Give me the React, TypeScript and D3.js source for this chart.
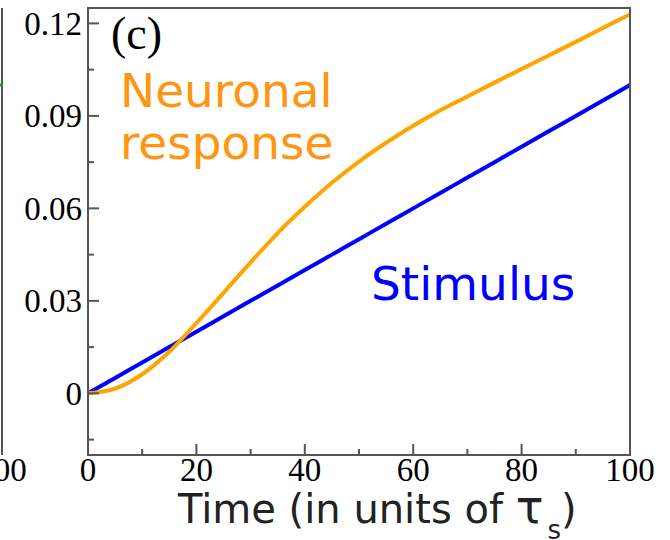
import React from 'react';
import * as d3 from 'd3';

// time axis (units of tau_s)
const times = [0, 5, 10, 15, 20, 25, 30, 35, 40, 45, 50, 55, 60, 65, 70, 75, 80, 85, 90, 95, 100];
// stimulus ramp
const stimulus = [0, 0.005, 0.01, 0.015, 0.02, 0.025, 0.03, 0.035, 0.04, 0.045, 0.05, 0.055, 0.06, 0.065, 0.07, 0.075, 0.08, 0.085, 0.09, 0.095, 0.1];
// neuronal response
const response = [0, 0.0015, 0.0062, 0.0135, 0.0228, 0.0326, 0.0425, 0.052, 0.0605, 0.0683, 0.0752, 0.0813, 0.0868, 0.0918, 0.0963, 0.1008, 0.1052, 0.1096, 0.114, 0.1185, 0.123];

const xMajor = [0, 20, 40, 60, 80, 100];
const xMinor = [10, 30, 50, 70, 90];
const yMajor = [0, 0.03, 0.06, 0.09, 0.12];
const yMinor = [-0.015, 0.015, 0.045, 0.075, 0.105];
const yLabels = ['0', '0.03', '0.06', '0.09', '0.12'];

const W = 670;
const H = 540;
const left = 88;
const right = 630;
const top = 8;
const bottom = 455;

const axisColor = '#555';
const serif = '"Liberation Serif", "Times New Roman", serif';
const sans = '"DejaVu Sans", sans-serif';

export default function App() {
  const x = d3.scaleLinear().domain([0, 100]).range([left, right]);
  const y = d3.scaleLinear().domain([-0.02, 0.125]).range([bottom, top]);

  const line = d3
    .line<number>()
    .x((_, i) => x(times[i]))
    .y((d) => y(d))
    .curve(d3.curveCatmullRom);

  const stimPath = line(stimulus) || '';
  const respPath = line(response) || '';

  return (
    <svg
      width={W}
      height={H}
      style={{ position: 'absolute', left: 0, top: 0, background: '#fff' }}
    >
      {/* edge of neighbouring panel */}
      <line x1={2} x2={2} y1={top} y2={bottom} stroke={axisColor} strokeWidth={2} />
      <line x1={-4} x2={3} y1={85} y2={85} stroke="#1a9a1a" strokeWidth={3} />
      <text x={2} y={481} fontFamily={serif} fontSize={33} textAnchor="middle">
        100
      </text>

      {/* curves */}
      <path d={stimPath} fill="none" stroke="#0000ff" strokeWidth={4} />
      <path d={respPath} fill="none" stroke="#ffa500" strokeWidth={4} />

      {/* frame */}
      <rect
        x={left}
        y={top}
        width={right - left}
        height={bottom - top}
        fill="none"
        stroke={axisColor}
        strokeWidth={2}
      />

      {/* y ticks */}
      {yMajor.map((v, i) => (
        <g key={'ym' + v}>
          <line x1={left} x2={left + 11} y1={y(v)} y2={y(v)} stroke={axisColor} strokeWidth={2} />
          <text
            x={82}
            y={y(v)}
            dy="0.35em"
            fontFamily={serif}
            fontSize={33}
            textAnchor="end"
          >
            {yLabels[i]}
          </text>
        </g>
      ))}
      {yMinor.map((v) => (
        <line key={'yn' + v} x1={left} x2={left + 6} y1={y(v)} y2={y(v)} stroke={axisColor} strokeWidth={2} />
      ))}

      {/* x ticks */}
      {xMajor.map((v) => (
        <g key={'xm' + v}>
          <line x1={x(v)} x2={x(v)} y1={bottom} y2={bottom - 11} stroke={axisColor} strokeWidth={2} />
          <text x={x(v)} y={481} fontFamily={serif} fontSize={33} textAnchor="middle">
            {v}
          </text>
        </g>
      ))}
      {xMinor.map((v) => (
        <line key={'xn' + v} x1={x(v)} x2={x(v)} y1={bottom} y2={bottom - 6} stroke={axisColor} strokeWidth={2} />
      ))}

      {/* axis title */}
      <text x={178} y={523} fontFamily={sans} fontSize={40} fill="#222">
        Time (in units of{' '}
        <tspan fontSize={46}>τ</tspan>
        <tspan fontSize={26} dx={4} dy={16}>s</tspan>
        <tspan dy={-16}>)</tspan>
      </text>

      {/* annotations */}
      <text x={111} y={49} fontFamily={serif} fontSize={46}>
        (c)
      </text>
      <text x={120} y={107} fontFamily={sans} fontSize={47} fill="#ff9510">
        Neuronal
      </text>
      <text x={120} y={159} fontFamily={sans} fontSize={47} fill="#ff9510">
        response
      </text>
      <text x={371} y={300} fontFamily={sans} fontSize={47} fill="#0000ff">
        Stimulus
      </text>
    </svg>
  );
}
